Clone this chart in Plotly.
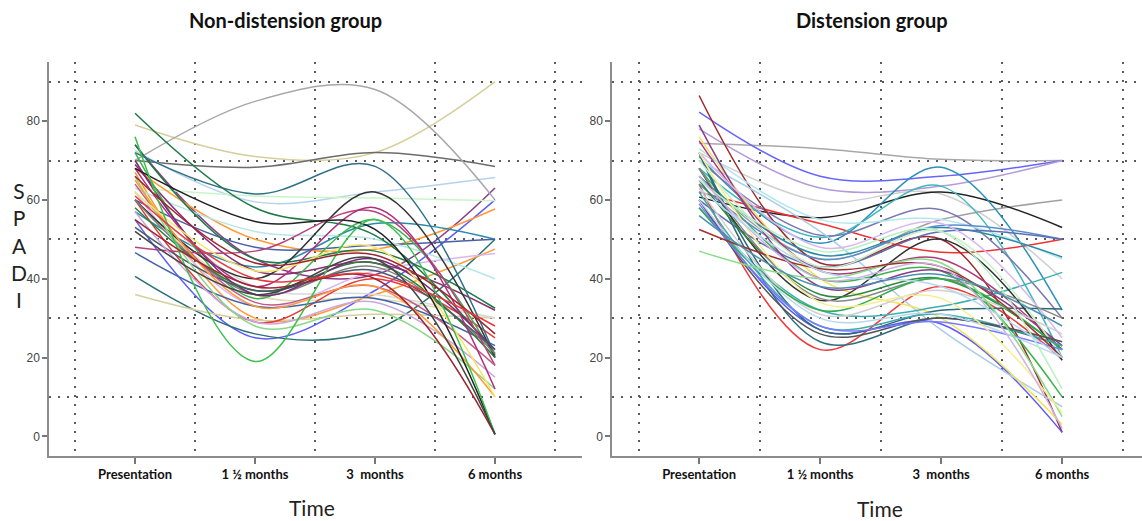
import plotly.graph_objects as go

# ---------------- data ----------------
categories = [0, 1, 2, 3]
tick_labels = ["<b>Presentation</b>", "<b>1 ½ months</b>", "<b>3\u00a0 months</b>", "<b>6 months</b>"]
y_ticks = [0, 20, 40, 60, 80]
grid_y = [10, 30, 50, 70, 90]
grid_x = [-0.5, 0.5, 1.5, 2.5, 3.5]

panel_titles = ["Non-distension group", "Distension group"]

# SPADI at Presentation, 1.5 months, 3 months, 6 months
non_dist_values = [
    [79, 71, 72, 90], [70, 68.3, 72, 68.5], [72.5, 59.5, 62, 65.7], [74, 45, 41, 63],
    [70, 85, 88, 60], [55, 25, 37, 60], [63, 61, 60.5, 59.8], [68, 50, 47.5, 57.7],
    [57, 43, 54, 50], [40.6, 26, 27, 50], [60, 48, 48.5, 50], [67, 30, 36, 47.5],
    [62, 33, 42, 46.4], [63, 52, 50, 40], [74, 45, 47, 32.5], [69, 42, 44, 32],
    [36, 29.5, 31, 30], [60, 36, 35, 30], [62, 38, 36, 30], [60, 29, 40, 25],
    [46.6, 33, 35, 23], [72, 61.5, 68.5, 20.5], [82, 58, 51, 21], [72, 35, 55, 20],
    [60, 40, 62, 20], [60, 36, 43, 21], [58, 37, 44, 20], [70, 36, 45, 22],
    [53, 37, 42, 22], [48, 47, 57, 18], [64, 34, 38, 18], [57, 29, 34, 15],
    [66, 28, 32, 12], [68, 38, 58, 12], [65, 33, 38, 10], [62, 42, 48, 10],
    [68, 54.5, 52.5, 0.5], [76, 19, 55, 0.5], [55, 38, 40, 0.5], [52, 36, 45, 0.5],
    [66, 44, 46, 26], [61, 40, 41, 28],
]
non_dist_colors = [
    "#d6cf9c", "#6b6b6b", "#b5d3ef", "#8b3a8b",
    "#a8a8a8", "#5c5cff", "#c9f5c9", "#ff9a33",
    "#2b8bab", "#2a6f7a", "#4a5fa8", "#ff9a33",
    "#d9b8f0", "#b6e6e6", "#1f7a45", "#8a2f6f",
    "#d6cf9c", "#e0dcb0", "#d9d9d9", "#e8383a",
    "#3f63a8", "#2e6f86", "#1d7a45", "#3cb44b",
    "#333333", "#808080", "#2f7d3a", "#7a2a7a",
    "#4a5a6a", "#b8407a", "#c05a8a", "#c8a8e0",
    "#88d888", "#b0307a", "#ff9933", "#f5e56a",
    "#222222", "#3cc04b", "#a02530", "#444444",
    "#a02530", "#e8383a",
]

dist_values = [
    [74.4, 73, 70.3, 70], [82.3, 66, 66, 70], [78, 63, 63.5, 70], [72, 59.7, 61.5, 40],
    [66, 45, 55, 60], [60.7, 55.5, 62, 53], [62, 54, 46.7, 50], [71, 49, 68.3, 32],
    [68, 50.5, 63.5, 20], [70, 51, 57.5, 30], [64, 22, 38, 19.5], [86.5, 44, 50, 1],
    [60, 27, 28.5, 1], [70, 52, 27, 7.5], [76, 40, 30, 3], [68, 40, 42, 10],
    [58, 32, 33, 41.6], [73, 55, 55, 45], [66, 46, 53, 45.5], [64, 45, 53.5, 50],
    [60, 43, 52, 50], [72, 27, 32, 32.3], [68, 34.5, 50, 19.3], [72, 24, 30, 23],
    [65, 36, 40, 22], [79, 38, 42, 23], [75, 42, 45, 22], [70, 43, 52, 20],
    [72, 48, 54, 25], [68, 35, 40, 30], [63, 31, 37, 26], [58, 32, 40, 22],
    [62, 28, 31, 23], [60, 26, 30, 24], [59, 28, 29, 22], [60, 30, 31, 20],
    [47, 40, 44, 5], [52.5, 42.5, 43, 20], [65, 47, 52, 12], [72, 34, 35, 6],
    [66, 40, 43, 2], [63, 42, 38, 20], [56, 38, 41, 28],
]
dist_colors = [
    "#a8a8a8", "#6464ff", "#b49ad8", "#cfcfcf",
    "#a0a0a0", "#222222", "#ee3333", "#2d8fb8",
    "#3fb8c0", "#7a78b0", "#ee3a3a", "#a0282c",
    "#5a5aff", "#aacde8", "#f2e35a", "#3cb44b",
    "#3bb0b0", "#b0e8ec", "#2a8aa8", "#5a8ccc",
    "#5e6eb0", "#2a6a7a", "#333333", "#2f6d80",
    "#2e8a3e", "#8a3a8a", "#b03a7a", "#c8f0c8",
    "#d8b8f0", "#888888", "#d0d0d0", "#2fae4a",
    "#44aaaa", "#555555", "#7a7aff", "#b8d8f0",
    "#88dd88", "#a03030", "#b8f0c0", "#f5ef90",
    "#d0b0e8", "#b8d8f0", "#4a90b0",
]

# ---------------- figure ----------------
W, H = 1142, 521
fig = go.Figure()

for vals, col in zip(non_dist_values, non_dist_colors):
    fig.add_trace(go.Scatter(x=categories, y=vals, mode="lines",
                             line=dict(color=col, width=1.5, shape="spline", smoothing=1.0),
                             xaxis="x", yaxis="y", hoverinfo="skip"))
for vals, col in zip(dist_values, dist_colors):
    fig.add_trace(go.Scatter(x=categories, y=vals, mode="lines",
                             line=dict(color=col, width=1.5, shape="spline", smoothing=1.0),
                             xaxis="x2", yaxis="y2", hoverinfo="skip"))

grid_style = dict(showgrid=True, griddash="2px,7px", gridcolor="#5a5a5a", gridwidth=1.5)

def xaxis(domain, rng, anchor):
    return dict(domain=domain, range=rng, anchor=anchor,
                tickmode="array", tickvals=categories, ticktext=tick_labels,
                ticks="outside", ticklen=6, tickwidth=1.5, tickcolor="#777777",
                showline=True, linecolor="#8c8c8c", linewidth=1.5,
                showgrid=False, zeroline=False,
                tickfont=dict(family="Lato", size=13, color="#111111"),
                minor=dict(tickmode="array", tickvals=grid_x, ticks="", **grid_style))

def yaxis(domain, anchor):
    return dict(domain=domain, range=[-5, 95], anchor=anchor,
                tickmode="array", tickvals=y_ticks,
                ticks="outside", ticklen=5, tickwidth=1.5, tickcolor="#777777",
                showline=True, linecolor="#8c8c8c", linewidth=1.5,
                showgrid=False, zeroline=False,
                tickfont=dict(family="Arial, Liberation Sans", size=12, color="#444444"),
                minor=dict(tickmode="array", tickvals=grid_y, ticks="", **grid_style))

def label(text, px, py, size, color="#111111"):
    return dict(text=text, x=px / W, y=1 - py / H, xref="paper", yref="paper",
                xanchor="center", yanchor="middle", showarrow=False, align="center",
                font=dict(family="Lato", size=size, color=color))

y_dom = [1 - 456 / H, 1 - 62 / H]
fig.update_layout(
    width=W, height=H,
    margin=dict(l=0, r=0, t=0, b=0),
    paper_bgcolor="white", plot_bgcolor="white",
    showlegend=False,
    xaxis=xaxis([49 / W, 582 / W], [-0.717, 3.725], "y"),
    yaxis=yaxis(y_dom, "x"),
    xaxis2=xaxis([612 / W, 1.0], [-0.72, 3.66], "y2"),
    yaxis2=yaxis(y_dom, "x2"),
    annotations=[
        label("<b>" + panel_titles[0] + "</b>", 285, 20, 20),
        label("<b>" + panel_titles[1] + "</b>", 872, 20, 20),
        label("Time", 312, 507, 21, "#222222"),
        label("Time", 880, 508, 21, "#222222"),
        label("S<br>P<br>A<br>D<br>I", 19, 245, 21, "#222222"),
    ],
)

fig.write_html("out.html", config={"displayModeBar": False},
               post_script="document.body.style.margin='0';document.body.style.padding='0';")
